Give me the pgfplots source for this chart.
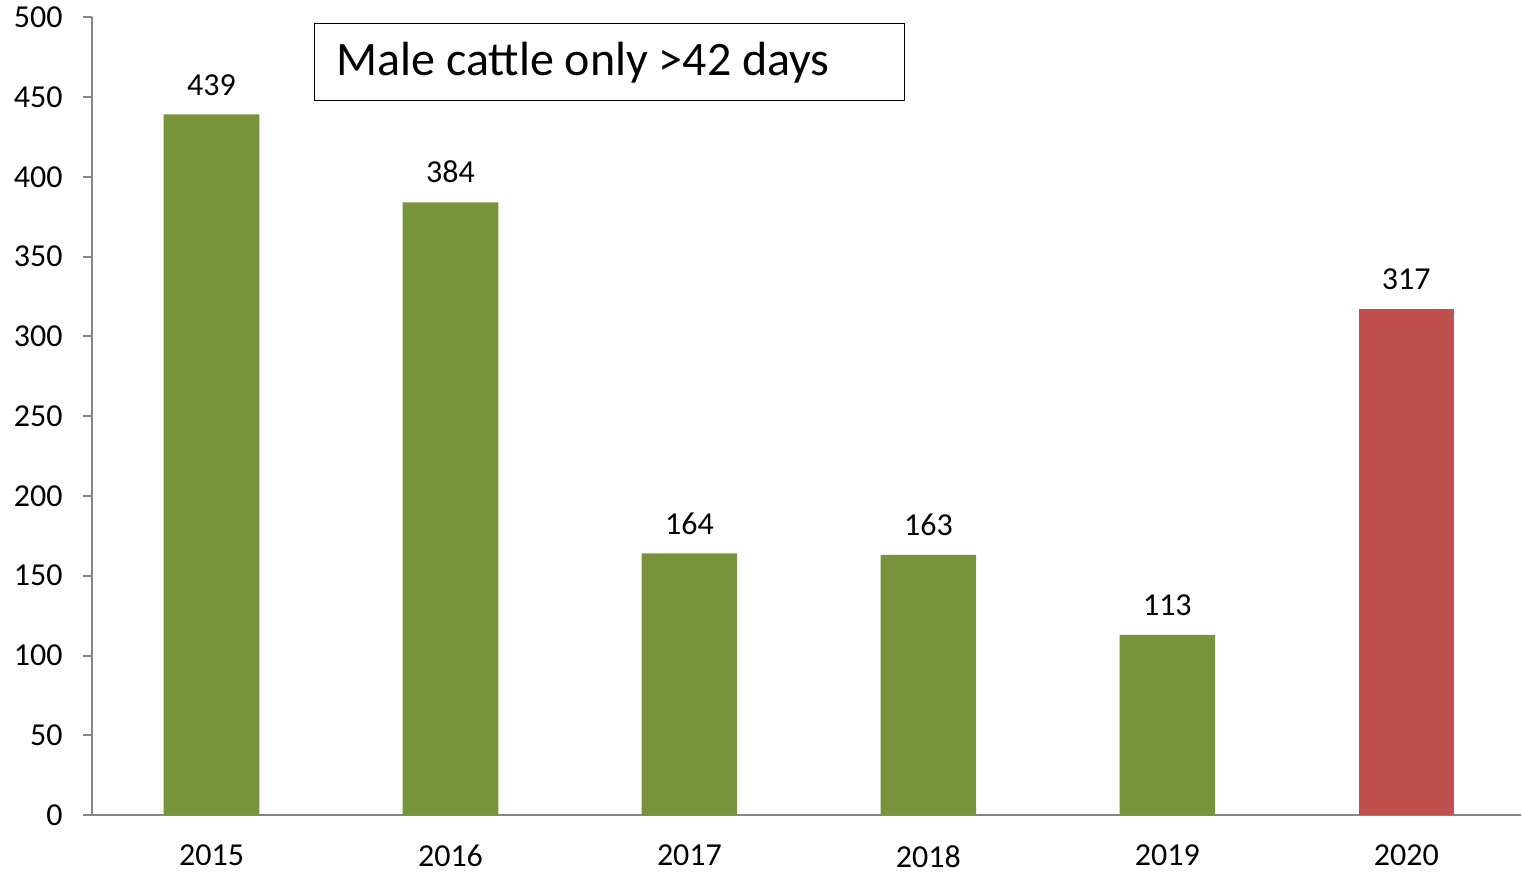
\documentclass[border=0pt]{standalone}
\usepackage{pgfplots}
\pgfplotsset{compat=1.18}
\usepackage{fontspec}
\setmainfont{Carlito}
\definecolor{bargreen}{HTML}{77933C}
\definecolor{barred}{HTML}{C0504D}
\definecolor{axgray}{HTML}{868686}
\begin{document}
\begin{tikzpicture}
\begin{axis}[
  scale only axis,
  width=714.5pt, height=399pt,
  xmin=-0.5, xmax=5.48,
  ymin=0, ymax=500,
  axis x line=bottom, axis y line=left,
  axis line style={axgray, line width=1pt, -},
  ytick={0,50,...,500},
  xtick={0,1,2,3,4,5},
  xticklabels={2015,2016,2017,2018,2019,2020},
  extra x ticks={-0.5,0.5,1.5,2.5,3.5,4.5},
  extra x tick labels={},
  extra x tick style={major tick length=5pt, tick style={axgray, line width=1pt}},
  x tick style={draw=none},
  y tick style={axgray, line width=1pt},
  tick align=outside,
  major tick length=4.5pt,
  /pgf/number format/assume math mode=true,
  ticklabel style={font=\fontsize{16}{19}\selectfont},
  yticklabel style={inner xsep=7pt, xshift=-3pt},
  xticklabel style={yshift=-7pt},
  ybar, bar width=0.4, bar shift=0pt,
  nodes near coords,
  every node near coord/.append style={font=\fontsize{16}{19}\selectfont, yshift=6pt, text=black},
  clip=false,
]
\addplot[fill=bargreen, draw=none] coordinates {(0,439) (1,384) (2,164) (3,163) (4,113)};
\addplot[fill=barred, draw=none] coordinates {(5,317)};
\node[draw=black, line width=0.6pt, anchor=north west, minimum width=295pt, minimum height=38.5pt, inner xsep=0pt] (tb) at (axis cs:0.429,496.2) {};
\node[anchor=west, inner sep=0pt, font=\fontsize{24}{28}\selectfont] at ([xshift=11pt]tb.west) {Male cattle only >42 days};
\end{axis}
\end{tikzpicture}
\end{document}
